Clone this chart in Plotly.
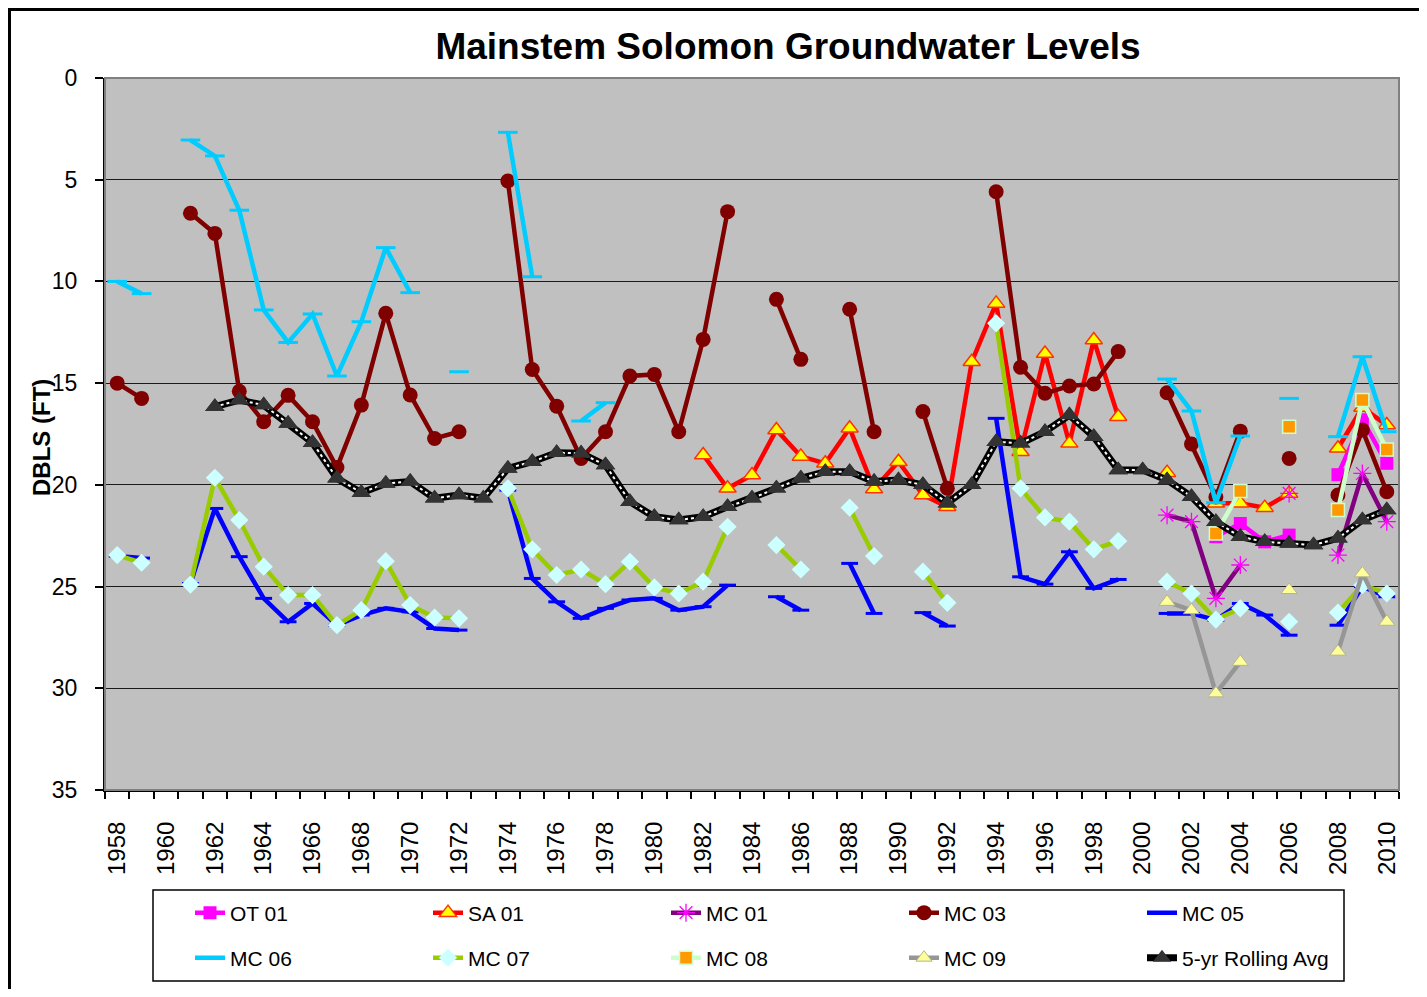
import plotly.graph_objects as go

N = None

# ---------------- data (depth below land surface, ft) ----------------
years_all = list(range(1958, 2011))          # 53 years
years_sa01 = list(range(1982, 2011))         # 29 years
years_avg = list(range(1962, 2011))          # 49 years
years_recent = list(range(2001, 2011))       # 10 years

mc03 = [15.0, 15.75, N, 6.65, 7.64, 15.4, 16.9, 15.6, 16.9, 19.15,
        16.08, 11.57, 15.58, 17.72, 17.39, N, 5.06, 14.33, 16.13, 18.7,
        17.39, 14.65, 14.57, 17.39, 12.85, 6.57, N, 10.88, 13.83, N,
        11.37, 17.39, N, 16.4, 20.17, N, 5.59, 14.22, 15.5, 15.14,
        15.04, 13.45, N, 15.47, 17.99, 20.6, 17.36, N, 18.7, N,
        20.5, 17.3, 20.34]

mc06 = [10.0, 10.6, N, 3.05, 3.83, 6.5, 11.4, 13.0, 11.6, 14.65,
        11.98, 8.34, 10.55, N, 14.44, N, 2.67, 9.77, N, 16.86,
        15.96, N, N, N, N, N, N, N, N, N,
        N, N, N, N, N, N, N, N, N, N,
        N, N, N, 14.8, 16.37, 20.88, 17.6, N, 15.75, N,
        17.63, 13.7, 17.39]

mc05 = [23.5, 23.6, N, 24.85, 21.16, 23.53, 25.58, 26.73, 25.83, 26.9,
        26.4, 26.07, 26.24, 27.06, 27.14, N, 20.26, 24.6, 25.75, 26.56,
        26.07, 25.66, 25.58, 26.16, 25.99, 24.93, N, 25.5, 26.16, N,
        23.86, 26.32, N, 26.28, 26.94, N, 16.73, 24.52, 24.88, 23.29,
        25.09, 24.65, N, 26.32, 26.32, 26.65, 25.83, 26.4, 27.39, N,
        26.9, 25.0, 25.5]

mc07 = [23.45, 23.83, N, 24.9, 19.65, 21.73, 24.02, 25.42, 25.42, 26.9,
        26.16, 23.75, 25.91, 26.52, 26.56, N, 20.17, 23.17, 24.43, 24.16,
        24.88, 23.78, 25.04, 25.34, 24.76, 22.06, N, 22.96, 24.16, N,
        21.12, 23.5, N, 24.27, 25.8, N, 12.06, 20.17, 21.6, 21.81,
        23.17, 22.76, N, 24.76, 25.34, 26.62, 26.07, N, 26.73, N,
        26.28, 24.93, 25.34]

sa01 = [18.53, 20.17, 19.52, 17.3, 18.6, 18.94, 17.22, 20.2, 18.86, 20.5,
        21.08, 13.95, 11.08, 18.37, 13.54, 17.96, 12.88, 16.65, N, 19.4,
        N, 20.9, 20.9, 21.12, 20.42, N, 18.2, 16.2, 17.06]

mc01 = [21.49, 21.81, 25.58, 23.94, N, 20.42, N, 23.45, 19.44, 21.81]
ot01 = [N, N, 22.55, 21.9, 22.8, 22.47, N, 19.5, 16.8, 18.94]
mc08 = [N, N, 22.39, 20.3, N, 17.14, N, 21.24, 15.83, 18.26]
mc09 = [25.75, 26.16, 30.25, 28.7, N, 25.17, N, 28.2, 24.35, 26.73]

avg5 = [16.16, 15.83, 16.08, 16.98, 17.93, 19.68, 20.39, 19.93, 19.84, 20.66,
        20.5, 20.66, 19.19, 18.86, 18.42, 18.45, 19.03, 20.83, 21.57, 21.73,
        21.57, 21.08, 20.66, 20.17, 19.68, 19.35, 19.35, 19.84, 19.76, 20.0,
        20.9, 20.0, 17.88, 17.96, 17.39, 16.57, 17.63, 19.27, 19.27, 19.76,
        20.58, 21.81, 22.55, 22.8, 22.88, 22.96, 22.63, 21.73, 21.24]

x_tick_years = list(range(1958, 2011, 2))
y_ticks = [0, 5, 10, 15, 20, 25, 30, 35]

title_text = "Mainstem Solomon Groundwater Levels"
y_title = "DBLS (FT)"

# ---------------- figure ----------------
SANS = "Liberation Sans, Arial, sans-serif"
LW = 4.5

fig = go.Figure()


def add(name, xs, ys, line_color, symbol, msize, mcolor, mline_color, mline_w, legend):
    fig.add_trace(go.Scatter(
        x=xs, y=ys, name=name, mode="lines+markers", connectgaps=False,
        line=dict(color=line_color, width=LW),
        marker=dict(symbol=symbol, size=msize, color=mcolor,
                    line=dict(color=mline_color, width=mline_w)),
        legend=legend))


add("OT 01", years_recent, ot01, "#FF00FF", "square", 13, "#FF00FF", "#FF00FF", 0, "legend")
add("SA 01", years_sa01, sa01, "#FF0000", "triangle-up", 15, "#FFFF00", "#FF3300", 1.5, "legend")
add("MC 01", years_recent, mc01, "#800080", "asterisk-open", 15, "#FF00FF", "#FF00FF", 1.3, "legend")
add("MC 03", years_all, mc03, "#800000", "circle", 15, "#800000", "#800000", 0, "legend")
add("MC 05", years_all, mc05, "#0000FF", "line-ew-open", 12, "#0000FF", "#0000FF", 3, "legend")
add("MC 06", years_all, mc06, "#00CCFF", "line-ew-open", 14, "#00CCFF", "#00CCFF", 3, "legend2")
add("MC 07", years_all, mc07, "#99CC00", "diamond", 14, "#CCFFFF", "#CCFFFF", 0, "legend2")
add("MC 08", years_recent, mc08, "#CCFFCC", "square", 13, "#FF9900", "#CCFFCC", 1.5, "legend2")
add("MC 09", years_recent, mc09, "#969696", "triangle-up", 14, "#FFFF99", "#B4B48C", 1, "legend2")

# 5-yr rolling average: black band with white dots, dark triangles
fig.add_trace(go.Scatter(
    x=years_avg, y=avg5, name="5-yr Rolling Avg", mode="lines+markers",
    line=dict(color="#000000", width=7),
    marker=dict(symbol="triangle-up", size=17, color="#333333"),
    legend="legend2"))
fig.add_trace(go.Scatter(
    x=years_avg, y=avg5, mode="lines", hoverinfo="skip",
    line=dict(color="#FFFFFF", width=2, dash="dot"),
    showlegend=False, legend="legend2"))
fig.add_trace(go.Scatter(
    x=years_avg, y=avg5, mode="markers", hoverinfo="skip",
    marker=dict(symbol="triangle-up", size=17, color="#333333"),
    showlegend=False, legend="legend2"))

# The page body has an 8px margin: work in target-screen pixels, shift by OFF.
OFF = 8
FIG_W, FIG_H = 1427 - 2 * OFF, 997 - 2 * OFF
L, R, T, B = 105 - OFF, 1399 - OFF, 78 - OFF, 790 - OFF
W, H = R - L, B - T


def px(x):
    return (x - OFF - L) / W


def py(y):
    return (B - (y - OFF)) / H


shapes = [
    dict(type="rect", xref="paper", yref="paper", x0=0, x1=1, y0=0, y1=1,
         line=dict(color="#808080", width=2), layer="above"),
    dict(type="rect", xref="paper", yref="paper", x0=px(153), x1=px(1344),
         y0=py(981), y1=py(890), line=dict(color="#000000", width=1.5)),
    dict(type="line", xref="paper", yref="paper", x0=px(9.5), x1=px(9.5),
         y0=py(9.5), y1=py(1000), line=dict(color="#000000", width=3)),
    dict(type="line", xref="paper", yref="paper", x0=px(8), x1=px(1430),
         y0=py(9.5), y1=py(9.5), line=dict(color="#000000", width=3)),
]

legend_common = dict(orientation="h", xanchor="left", yanchor="middle",
                     bgcolor="rgba(0,0,0,0)", borderwidth=0,
                     font=dict(family=SANS, size=21, color="#000000"),
                     entrywidth=193, entrywidthmode="pixels", itemsizing="trace")

fig.update_layout(
    width=FIG_W, height=FIG_H,
    margin=dict(l=L, r=FIG_W - R, t=T, b=FIG_H - B, autoexpand=False),
    paper_bgcolor="#FFFFFF",
    plot_bgcolor="#C0C0C0",
    showlegend=True,
    title=dict(text=title_text, x=px(788), xref="paper", xanchor="center",
               y=1 - (46 - OFF) / FIG_H, yref="container", yanchor="middle",
               font=dict(family=SANS, size=37, color="#000000", weight="bold")),
    xaxis=dict(
        range=[1957.5, 2010.5], tickmode="array", tickvals=x_tick_years,
        ticktext=[str(y) for y in x_tick_years], tickangle=-90, ticks="",
        showgrid=False, zeroline=False, showline=True, linecolor="#000000", linewidth=2,
        tickfont=dict(family=SANS, size=24, color="#000000"),
        ticklabelstandoff=20, automargin=False,
        minor=dict(tickmode="linear", tick0=1957.5, dtick=1, ticks="outside",
                   ticklen=7, tickwidth=1.5, tickcolor="#000000", showgrid=False),
    ),
    yaxis=dict(
        range=[35, 0], tickmode="array", tickvals=y_ticks,
        ticktext=[str(v) for v in y_ticks], ticks="outside", ticklen=8,
        tickwidth=1.5, tickcolor="#000000",
        showgrid=True, gridcolor="#1a1a1a", gridwidth=1.3, zeroline=False,
        showline=True, linecolor="#000000", linewidth=2,
        tickfont=dict(family=SANS, size=23, color="#000000"),
        ticklabelstandoff=13, automargin=False,
    ),
    legend=dict(x=px(190), y=py(913), **legend_common),
    legend2=dict(x=px(190), y=py(958), **legend_common),
    shapes=shapes,
    annotations=[dict(text=y_title, textangle=-90, xref="paper", yref="paper",
                      x=px(41), y=py(438), xanchor="center", yanchor="middle",
                      showarrow=False,
                      font=dict(family=SANS, size=24, color="#000000", weight="bold"))],
)

fig.write_html("out.html")
